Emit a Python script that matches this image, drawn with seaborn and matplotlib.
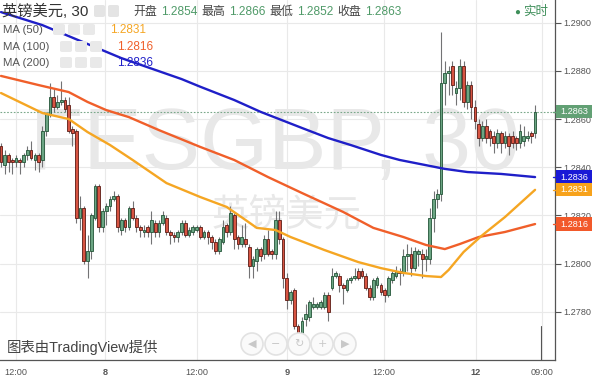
import numpy as np
import pandas as pd
import matplotlib
matplotlib.use("Agg")
import matplotlib.pyplot as plt
import seaborn as sns
from matplotlib.patches import FancyBboxPatch, Ellipse, Rectangle
from matplotlib.lines import Line2D

# ---------------- data (30-minute candles) ----------------
open_ = [
    1.2849, 1.2841, 1.2845, 1.2843, 1.2842, 1.2843, 1.2842, 1.2845, 1.2847, 1.2843,
    1.2845, 1.2843, 1.2855, 1.2862, 1.2869, 1.2865, 1.2867, 1.2868, 1.2866, 1.2856,
    1.2855, 1.2819, 1.2823, 1.2801, 1.2805, 1.2819, 1.2832, 1.2815, 1.2822, 1.2824,
    1.2827, 1.2828, 1.2814, 1.2818, 1.2815, 1.2823, 1.2819, 1.2815, 1.2813, 1.2815,
    1.2813, 1.2817, 1.2813, 1.2817, 1.2819, 1.2813, 1.2812, 1.2811, 1.2813, 1.2817,
    1.2812, 1.2813, 1.2814, 1.2815, 1.2811, 1.2813, 1.2811, 1.2809, 1.2805, 1.2809,
    1.2816, 1.2813, 1.2820, 1.2811, 1.2808, 1.2810, 1.2807, 1.2799, 1.2801, 1.2806,
    1.2804, 1.2810, 1.2805, 1.2804, 1.2818, 1.2810, 1.2794, 1.2785, 1.2789, 1.2774,
    1.2771, 1.2777, 1.2778, 1.2782, 1.2782, 1.2782, 1.2782, 1.2787, 1.2790, 1.2795,
    1.2795, 1.2791, 1.2789, 1.2793, 1.2794, 1.2797, 1.2797, 1.2795, 1.2790, 1.2786,
    1.2791, 1.2791, 1.2789, 1.2787, 1.2793, 1.2795, 1.2797, 1.2796, 1.2803, 1.2804,
    1.2798, 1.2804, 1.2804, 1.2802, 1.2802, 1.2819, 1.2827, 1.2829, 1.2875, 1.2879,
    1.2882, 1.2871, 1.2873, 1.2882, 1.2867, 1.2874, 1.2865, 1.2858, 1.2852, 1.2857,
    1.2855, 1.2853, 1.2850, 1.2854, 1.2850, 1.2853, 1.2853, 1.2852, 1.2850, 1.2851,
    1.2852, 1.2854, 1.2854]
high = [
    1.2850, 1.2847, 1.2846, 1.2844, 1.2845, 1.2844, 1.2846, 1.2849, 1.2851, 1.2846,
    1.2846, 1.2857, 1.2863, 1.2875, 1.2873, 1.2870, 1.2876, 1.2869, 1.2869, 1.2857,
    1.2856, 1.2828, 1.2824, 1.2812, 1.2821, 1.2833, 1.2833, 1.2823, 1.2825, 1.2828,
    1.2830, 1.2829, 1.2819, 1.2819, 1.2824, 1.2826, 1.2820, 1.2816, 1.2816, 1.2816,
    1.2822, 1.2818, 1.2818, 1.2822, 1.2820, 1.2814, 1.2813, 1.2814, 1.2818, 1.2818,
    1.2815, 1.2816, 1.2816, 1.2816, 1.2814, 1.2814, 1.2812, 1.2810, 1.2811, 1.2818,
    1.2817, 1.2824, 1.2821, 1.2812, 1.2816, 1.2817, 1.2808, 1.2803, 1.2807, 1.2807,
    1.2812, 1.2814, 1.2806, 1.2822, 1.2822, 1.2811, 1.2796, 1.2789, 1.2790, 1.2775,
    1.2778, 1.2783, 1.2785, 1.2786, 1.2784, 1.2785, 1.2788, 1.2788, 1.2798, 1.2797,
    1.2796, 1.2792, 1.2794, 1.2795, 1.2798, 1.2798, 1.2798, 1.2796, 1.2791, 1.2794,
    1.2795, 1.2792, 1.2790, 1.2795, 1.2797, 1.2799, 1.2798, 1.2806, 1.2808, 1.2807,
    1.2807, 1.2806, 1.2806, 1.2806, 1.2823, 1.2830, 1.2831, 1.2896, 1.2884, 1.2882,
    1.2884, 1.2876, 1.2885, 1.2884, 1.2876, 1.2876, 1.2868, 1.2860, 1.2859, 1.2860,
    1.2856, 1.2855, 1.2856, 1.2855, 1.2855, 1.2854, 1.2855, 1.2853, 1.2858, 1.2857,
    1.2855, 1.2855, 1.2866]
low = [
    1.2840, 1.2837, 1.2838, 1.2837, 1.2840, 1.2837, 1.2840, 1.2843, 1.2843, 1.2839,
    1.2838, 1.2840, 1.2853, 1.2861, 1.2863, 1.2864, 1.2866, 1.2863, 1.2854, 1.2849,
    1.2817, 1.2814, 1.2800, 1.2794, 1.2802, 1.2818, 1.2813, 1.2813, 1.2816, 1.2822,
    1.2826, 1.2813, 1.2812, 1.2813, 1.2814, 1.2818, 1.2813, 1.2811, 1.2811, 1.2811,
    1.2808, 1.2811, 1.2811, 1.2816, 1.2812, 1.2808, 1.2809, 1.2809, 1.2812, 1.2811,
    1.2811, 1.2812, 1.2813, 1.2810, 1.2810, 1.2808, 1.2806, 1.2804, 1.2804, 1.2808,
    1.2811, 1.2812, 1.2806, 1.2806, 1.2807, 1.2807, 1.2794, 1.2794, 1.2797, 1.2801,
    1.2802, 1.2803, 1.2802, 1.2802, 1.2808, 1.2790, 1.2781, 1.2783, 1.2773, 1.2770,
    1.2770, 1.2774, 1.2776, 1.2781, 1.2781, 1.2781, 1.2781, 1.2776, 1.2789, 1.2794,
    1.2788, 1.2783, 1.2788, 1.2792, 1.2793, 1.2793, 1.2794, 1.2789, 1.2785, 1.2785,
    1.2790, 1.2787, 1.2784, 1.2786, 1.2792, 1.2794, 1.2791, 1.2795, 1.2797, 1.2795,
    1.2797, 1.2799, 1.2794, 1.2797, 1.2800, 1.2813, 1.2823, 1.2826, 1.2866, 1.2870,
    1.2870, 1.2866, 1.2868, 1.2865, 1.2864, 1.2860, 1.2856, 1.2849, 1.2851, 1.2850,
    1.2849, 1.2846, 1.2848, 1.2846, 1.2848, 1.2845, 1.2848, 1.2847, 1.2848, 1.2849,
    1.2851, 1.2850, 1.2852]
close = [
    1.2842, 1.2845, 1.2842, 1.2842, 1.2844, 1.2842, 1.2845, 1.2847, 1.2844, 1.2845,
    1.2842, 1.2855, 1.2862, 1.2869, 1.2865, 1.2867, 1.2868, 1.2864, 1.2855, 1.2854,
    1.2819, 1.2823, 1.2801, 1.2805, 1.2820, 1.2832, 1.2815, 1.2822, 1.2824, 1.2827,
    1.2828, 1.2815, 1.2818, 1.2815, 1.2823, 1.2819, 1.2815, 1.2814, 1.2814, 1.2813,
    1.2818, 1.2813, 1.2817, 1.2820, 1.2813, 1.2812, 1.2811, 1.2813, 1.2817, 1.2812,
    1.2814, 1.2815, 1.2815, 1.2811, 1.2813, 1.2811, 1.2809, 1.2805, 1.2810, 1.2815,
    1.2813, 1.2821, 1.2810, 1.2808, 1.2811, 1.2808, 1.2799, 1.2802, 1.2806, 1.2803,
    1.2810, 1.2804, 1.2804, 1.2818, 1.2810, 1.2794, 1.2785, 1.2788, 1.2774, 1.2771,
    1.2776, 1.2779, 1.2784, 1.2783, 1.2783, 1.2784, 1.2787, 1.2780, 1.2795, 1.2796,
    1.2791, 1.2790, 1.2793, 1.2794, 1.2795, 1.2794, 1.2795, 1.2790, 1.2786, 1.2793,
    1.2794, 1.2788, 1.2787, 1.2794, 1.2796, 1.2797, 1.2796, 1.2803, 1.2804, 1.2798,
    1.2805, 1.2805, 1.2802, 1.2803, 1.2819, 1.2827, 1.2829, 1.2875, 1.2879, 1.2880,
    1.2874, 1.2873, 1.2882, 1.2867, 1.2874, 1.2865, 1.2859, 1.2852, 1.2857, 1.2852,
    1.2852, 1.2850, 1.2854, 1.2850, 1.2853, 1.2849, 1.2850, 1.2850, 1.2855, 1.2853,
    1.2853, 1.2853, 1.2863]

# moving averages sampled along the chart (candle index, value)
ma50_idx = [0, 11, 18, 23, 29, 35, 44, 53, 60, 65, 68, 73, 77, 86, 95, 101, 107,
            113, 117, 119, 123, 128, 134, 142]
ma50_val = [1.28708, 1.28625, 1.28600, 1.28546, 1.28492, 1.28430, 1.28334, 1.28276,
            1.28235, 1.28181, 1.28148, 1.28139, 1.28110, 1.28056, 1.28006, 1.27981,
            1.27961, 1.27948, 1.27944, 1.27973, 1.28048, 1.28118, 1.28193, 1.28306]
ma100_idx = [0, 10, 18, 23, 28, 34, 42, 53, 62, 71, 80, 91, 99, 107, 113, 118, 122,
             127, 134, 142]
ma100_val = [1.28779, 1.28741, 1.28712, 1.28671, 1.28637, 1.28608, 1.28554, 1.28484,
             1.28430, 1.28359, 1.28293, 1.28214, 1.28148, 1.28110, 1.28077, 1.28060,
             1.28081, 1.28110, 1.28131, 1.28164]
ma200_idx = [0, 11, 32, 48, 53, 62, 69, 80, 87, 93, 101, 106, 118, 124, 133, 142]
ma200_val = [1.29044, 1.28990, 1.28853, 1.28766, 1.28734, 1.28679, 1.28630, 1.28563,
             1.28521, 1.28492, 1.28451, 1.28430, 1.28393, 1.28380, 1.28372, 1.28359]

ytick_vals = [1.2780, 1.2800, 1.2820, 1.2840, 1.2860, 1.2880, 1.2900]
xtick_pos = [3.99, 27.65, 52.1, 76.0, 101.8, 126.3, 143.8]
xtick_labels = ["12:00", "8", "12:00", "9", "12:00", "12", "09:00"]
xtick_bold = [False, True, False, True, False, True, False]

title = "英镑美元, 30"
watermark = "FESGBP, 30"
watermark_cn = "英镑美元"
credit = "图表由TradingView提供"

# ---------------- style ----------------
sns.set_theme(style="white")
plt.rcParams['font.family'] = ['Liberation Sans', 'Noto Sans CJK SC', 'DejaVu Sans']

UP_FILL, UP_EDGE = '#6ba583', '#225437'
DN_FILL, DN_EDGE = '#d75442', '#5b1a13'
C50, C100, C200 = '#f5a623', '#f05f2a', '#1f1fc8'
TAG_GREEN, TAG_BLUE, TAG_ORANGE, TAG_RED = '#62a074', '#1a1ad6', '#f7a21b', '#f2592a'
TXT = '#444444'
VAL_GREEN = '#4f9a68'

W, H = 592, 376
fig = plt.figure(figsize=(W / 100, H / 100), dpi=100)
fig.patch.set_facecolor('white')
ax = fig.add_axes([0, 16 / H, 555 / W, 360 / H])
ax.set_facecolor('white')


def fx(x):
    return x / W


def fy(y):
    return 1 - y / H


df = pd.DataFrame({'open': open_, 'high': high, 'low': low, 'close': close})
df['idx'] = np.arange(len(df))
up = df[df['close'] >= df['open']]
dn = df[df['close'] < df['open']]

# wicks
ax.vlines(df['idx'], df['low'], df['high'], color='#737375', lw=0.8, zorder=3)
# bodies
min_h = 0.00002
ax.bar(up['idx'], np.maximum(up['close'] - up['open'], min_h), bottom=up['open'],
       width=0.72, color=UP_FILL, edgecolor=UP_EDGE, linewidth=0.6, zorder=4)
ax.bar(dn['idx'], np.maximum(dn['open'] - dn['close'], min_h), bottom=dn['close'],
       width=0.72, color=DN_FILL, edgecolor=DN_EDGE, linewidth=0.6, zorder=4)

# moving averages
sns.lineplot(x=ma200_idx, y=ma200_val, ax=ax, color=C200, lw=1.7, estimator=None, zorder=5)
sns.lineplot(x=ma100_idx, y=ma100_val, ax=ax, color=C100, lw=1.7, estimator=None, zorder=5)
sns.lineplot(x=ma50_idx, y=ma50_val, ax=ax, color=C50, lw=1.7, estimator=None, zorder=5)

# last price dotted line
ax.axhline(close[-1], color='#7aa88a', lw=0.8, ls=(0, (1.5, 1.5)), zorder=2)

ax.set_xlim(-0.27, 147.3)
ax.set_ylim(1.275994, 1.290943)

# axes / ticks
ax.set_yticks(ytick_vals)
ax.set_yticklabels([f"{v:.4f}" for v in ytick_vals])
ax.set_xticks(xtick_pos)
ax.set_xticklabels(xtick_labels)
for lab, b in zip(ax.get_xticklabels(), xtick_bold):
    if b:
        lab.set_fontweight('bold')
ax.yaxis.tick_right()
ax.tick_params(axis='y', direction='out', length=4, width=0.8, color='#555555',
               labelsize=6.6, labelcolor='#555555', pad=2)
ax.tick_params(axis='x', direction='out', length=4, width=0.8, color='#555555',
               labelsize=6.6, labelcolor='#555555', pad=1.5)
ax.grid(True, color='#e9e9e9', lw=0.8)
ax.set_axisbelow(True)
for s in ['left', 'top']:
    ax.spines[s].set_visible(False)
for s in ['right', 'bottom']:
    ax.spines[s].set_color('#555555')
    ax.spines[s].set_linewidth(0.9)
ax.set_xlabel('')
ax.set_ylabel('')

# watermark
ax.text(fx(275), fy(146), watermark, transform=fig.transFigure, ha='center', va='center',
        fontsize=63, color='#e8e8e8', zorder=1)
ax.text(fx(287), fy(215), watermark_cn, transform=fig.transFigure, ha='center', va='center',
        fontsize=27, color='#e8e8e8', zorder=1)

# price tags on the right axis (box from the axis to the figure edge)
tags = [(close[-1], TAG_GREEN), (ma200_val[-1], TAG_BLUE),
        (ma50_val[-1], TAG_ORANGE), (ma100_val[-1], TAG_RED)]
ytr = ax.get_yaxis_transform()
for val, col in tags:
    ypx = ax.transData.transform((0, val))[1]  # display px from bottom
    fig.add_artist(Rectangle((556 / W, (ypx - 6.6) / H), 36 / W, 13.2 / H,
                             transform=fig.transFigure, fc=col, ec='none', zorder=8))
    fig.add_artist(Line2D([553 / W, 558 / W], [ypx / H, ypx / H], transform=fig.transFigure,
                          color=col, lw=1.0, zorder=8))
    fig.text(574 / W, ypx / H, f"{val:.4f}", ha='center', va='center',
             fontsize=6.6, color='white', zorder=9)

renderer = fig.canvas.get_renderer()


def seq_text(x, y, parts, size, gap=4):
    for s, col in parts:
        t = fig.text(fx(x), fy(y), s, color=col, fontsize=size, ha='left', va='center')
        bb = t.get_window_extent(renderer)
        x += bb.width + gap
    return x


def box(x, y, w, h, col='#e4e4e4'):
    fig.add_artist(FancyBboxPatch((fx(x), fy(y + h)), w / W, h / H,
                                  boxstyle='round,pad=0,rounding_size=0.004',
                                  transform=fig.transFigure, fc=col, ec='none'))


# header
fig.text(fx(2), fy(11), title, fontsize=11, color='#333333', ha='left', va='center')
box(94, 5, 11, 12)
box(108, 5, 11, 12)
ohlc_parts = [("开盘", TXT), (f"{open_[-1]:.4f}", VAL_GREEN),
              ("最高", TXT), (f"{high[-1]:.4f}", VAL_GREEN),
              ("最低", TXT), (f"{low[-1]:.4f}", VAL_GREEN),
              ("收盘", TXT), (f"{close[-1]:.4f}", VAL_GREEN)]
seq_text(133, 12, ohlc_parts, 8.6, gap=4)
fig.text(fx(517), fy(12), "●", fontsize=7, color='#3f8f5a', ha='center', va='center')
fig.text(fx(523), fy(12), "实时", fontsize=9, color='#3f8f5a', ha='left', va='center')

# legend
legend_rows = [("MA (50)", ma50_val[-1], C50, 30, 53, 110),
               ("MA (100)", ma100_val[-1], C100, 47, 60, 117),
               ("MA (200)", ma200_val[-1], C200, 63, 60, 117)]
for name, val, col, y, ix, vx in legend_rows:
    fig.text(fx(3), fy(y), name, fontsize=8.2, color='#555555', ha='left', va='center')
    for k in range(3):
        box(ix + 15 * k, y - 6, 12, 11, '#e9e9e9')
    fig.text(fx(vx), fy(y), f"{val:.4f}", fontsize=8.5, color=col, ha='left', va='center')

# credit and navigation buttons
fig.text(fx(7), fy(347), credit, fontsize=10.4, color='#444444', ha='left', va='center')
for cx, sym in zip([252, 276, 299, 322, 345], ["◀", "−", "↻", "+", "▶"]):
    fig.add_artist(Ellipse((fx(cx), fy(344)), 22 / W, 22 / H, transform=fig.transFigure,
                           fc='#fafafa', ec='#e2e2e2', lw=1.2))
    fig.text(fx(cx), fy(344), sym, fontsize=8, color='#c8c8c8', ha='center', va='center',
             family=['DejaVu Sans'])

fig.add_artist(Line2D([fx(541), fx(541)], [fy(326), fy(360)], transform=fig.transFigure,
                      color='#555555', lw=0.8))

fig.savefig('out.png', dpi=100, facecolor='white')
